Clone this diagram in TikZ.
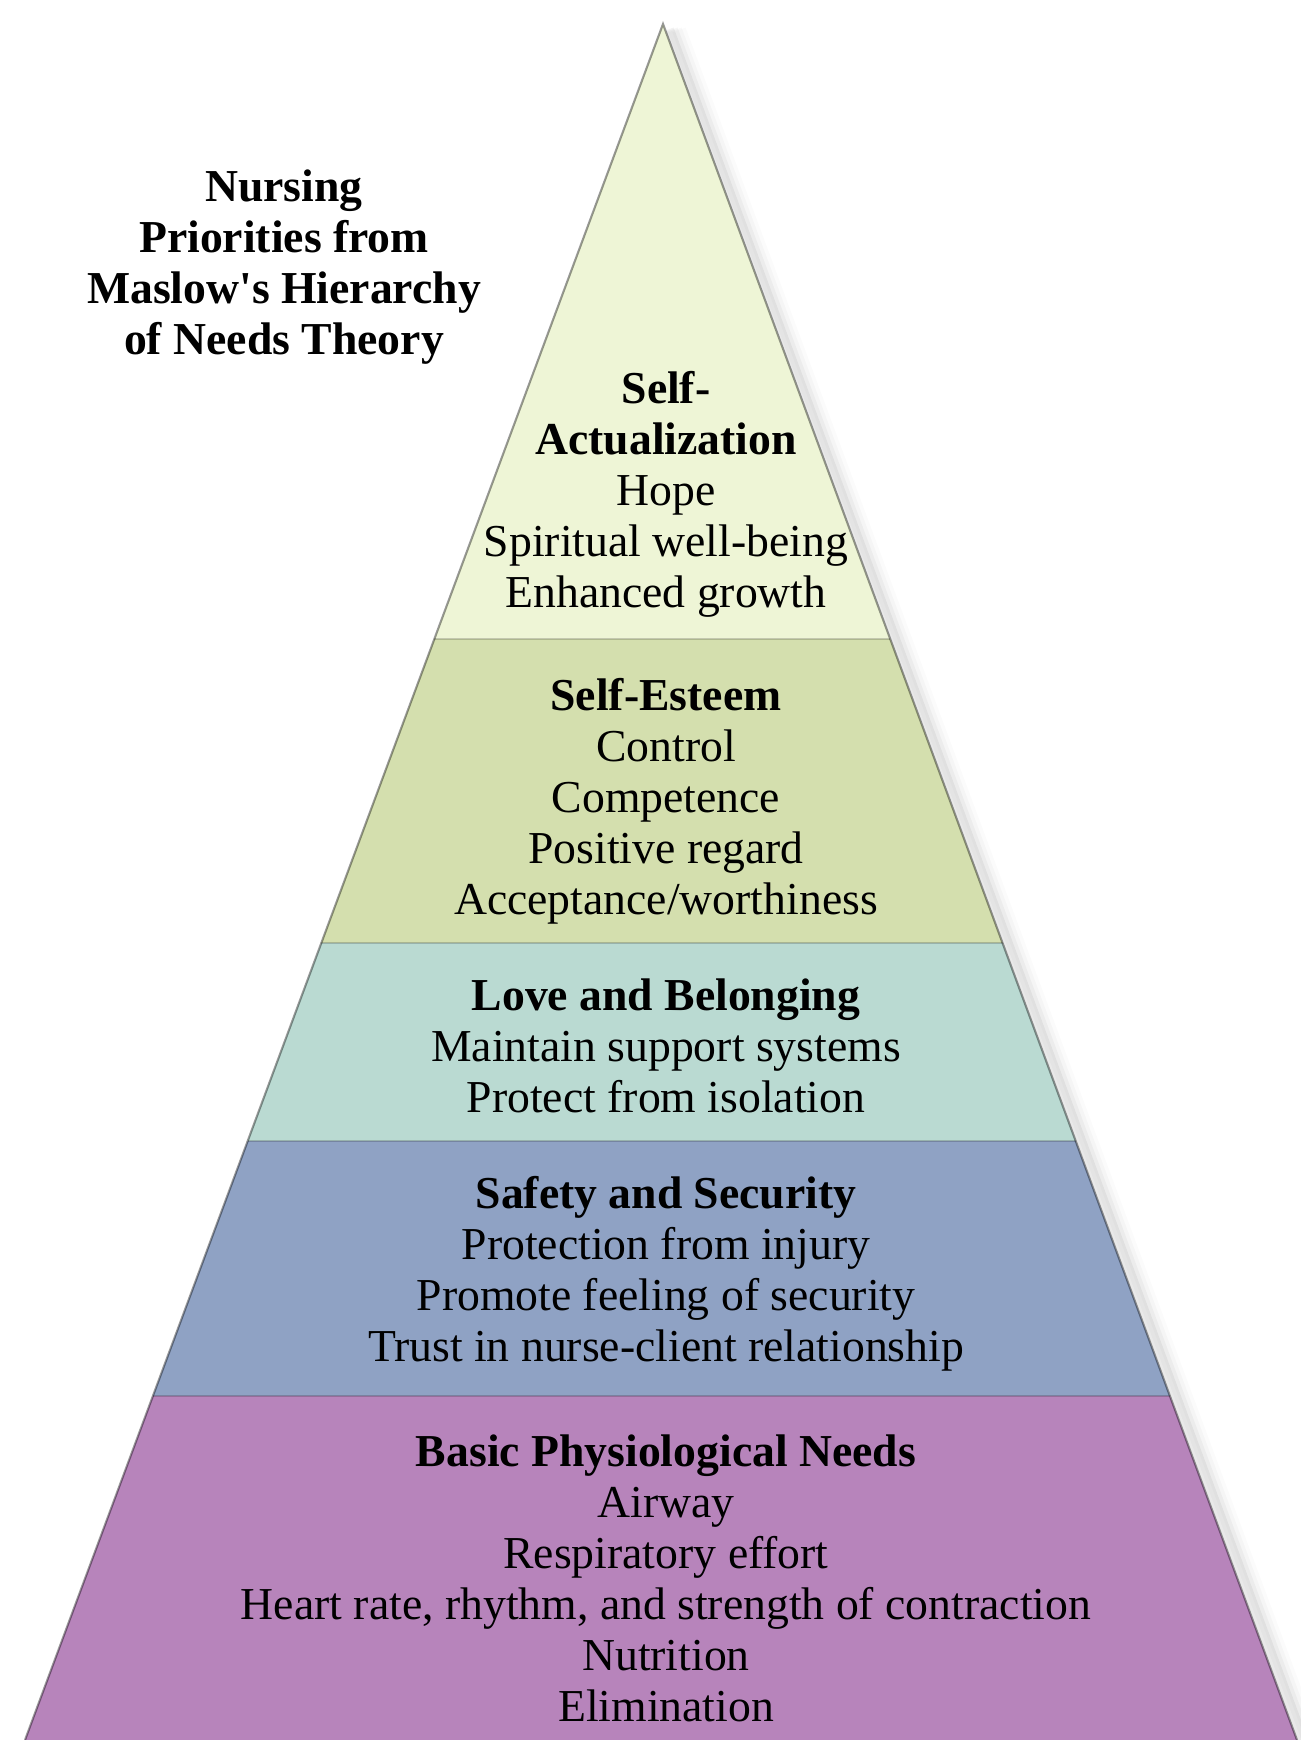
\documentclass[tikz,border=0pt]{standalone}
\usepackage{fontspec}
\setmainfont{Liberation Serif}
\usetikzlibrary{calc}
\definecolor{actcol}{RGB}{238,245,214}
\definecolor{estcol}{RGB}{212,223,174}
\definecolor{lovecol}{RGB}{186,218,210}
\definecolor{safecol}{RGB}{143,162,196}
\definecolor{basecol}{RGB}{183,132,187}
\tikzstyle{sepline} = [draw=black, draw opacity=0.18, line width=0.5pt]
\tikzstyle{edge} = [draw=black, draw opacity=0.4, line width=0.6pt]
\tikzstyle{needs} = [align=center, inner sep=0pt, font=\fontsize{13}{14.5}\selectfont]
\tikzstyle{heading} = [align=center, inner sep=0pt, font=\bfseries\fontsize{13}{14.5}\selectfont]

\begin{document}
\begin{tikzpicture}[x=0.1mm, y=-0.1mm]
\useasboundingbox (0,0) rectangle (1300,1740);

% Pyramid corners and levels
\coordinate (apex) at (663,24);
\coordinate (bl) at (25,1740);
\coordinate (br) at (1297,1740);
\foreach \n/\t in {1/0.3584, 2/0.5355, 3/0.651, 4/0.7995} {
  \coordinate (l\n) at ($(apex)!\t!(bl)$);
  \coordinate (r\n) at ($(apex)!\t!(br)$);
}

% Soft shadow on the right side
\foreach \d/\o in {4/0.05, 8/0.035, 12/0.025, 16/0.015}
  \draw[black, opacity=\o, line width=4pt] ($(apex)+(\d,6)$) -- ($(br)+(\d,0)$);

% Levels
\fill[actcol] (apex) -- (r1) -- (l1) -- cycle;
\fill[estcol] (l1) -- (r1) -- (r2) -- (l2) -- cycle;
\fill[lovecol] (l2) -- (r2) -- (r3) -- (l3) -- cycle;
\fill[safecol] (l3) -- (r3) -- (r4) -- (l4) -- cycle;
\fill[basecol] (l4) -- (r4) -- (br) -- (bl) -- cycle;
\foreach \n in {1,2,3,4}
  \draw[sepline] (l\n) -- (r\n);
\draw[edge] (bl) -- (apex) -- (br);

% Texts
\node (title) [heading] at (284,267) {Nursing\\Priorities from\\Maslow\textquotesingle s Hierarchy\\of Needs Theory};
\node (actual) [needs] at (666,494) {\textbf{Self-}\\\textbf{Actualization}\\Hope\\Spiritual well-being\\Enhanced growth};
\node (esteem) [needs] at (666,801) {\textbf{Self-Esteem}\\Control\\Competence\\Positive regard\\Acceptance/worthiness};
\node (love) [needs] at (666,1046) {\textbf{Love and Belonging}\\Maintain support systems\\Protect from isolation};
\node (safety) [needs] at (666,1274) {\textbf{Safety and Security}\\Protection from injury\\Promote feeling of security\\Trust in nurse-client relationship};
\node (basic) [needs] at (666,1578) {\textbf{Basic Physiological Needs}\\Airway\\Respiratory effort\\Heart rate, rhythm, and strength of contraction\\Nutrition\\Elimination};

\end{tikzpicture}
\end{document}
